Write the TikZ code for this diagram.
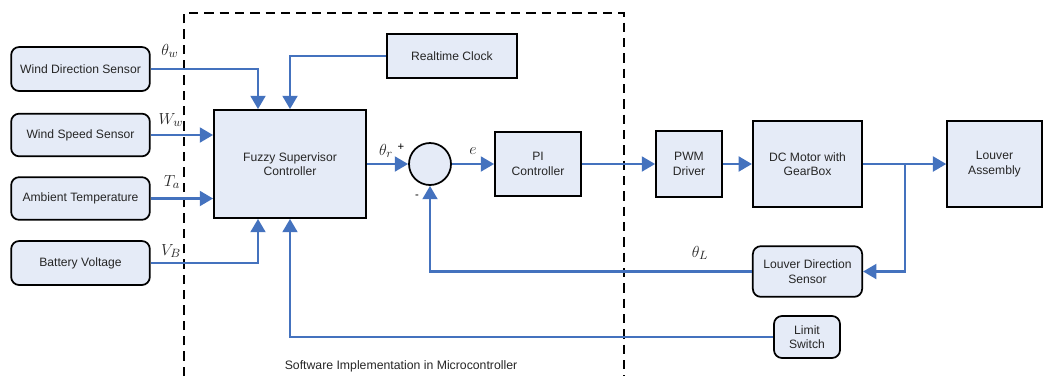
\documentclass[tikz,border=0pt]{standalone}
\usepackage{amsmath,amssymb}
\usepackage{fontspec}
\setmainfont{Liberation Sans}
\usetikzlibrary{arrows.meta}
\definecolor{sigblue}{RGB}{68,114,190}
\definecolor{boxfill}{RGB}{229,235,247}
\tikzset{
  blk/.style={draw, line width=1.3pt, fill=boxfill, align=center, text=black!85, font=\fontsize{9.1}{11}\selectfont, inner sep=0pt},
  sensor/.style={blk, rounded corners=6pt},
  sig/.style={draw=sigblue, line width=2.2pt, -{Triangle[length=10pt,width=11pt]}},
  lbl/.style={font=\fontsize{12.5}{14}\selectfont, text=black!85, inner sep=0pt},
}
\begin{document}
\begin{tikzpicture}[x=0.75pt,y=0.75pt,yscale=-1,xscale=1]
\useasboundingbox (0,0) rectangle (1044,376);

%Dashed frame: software in microcontroller
\draw [line width=1.1pt, dash pattern=on 7pt off 4.5pt] (184,376) -- (184,13) -- (624,13) -- (624,376);
\node [font=\fontsize{9.2}{11}\selectfont, text=black!85] (sw) at (401,366) {Software Implementation in Microcontroller};

%Sensors on the left
\node [sensor, minimum width=104pt, minimum height=33pt] (wds) at (80.5,69) {Wind Direction Sensor};
\node [sensor, minimum width=104pt, minimum height=32pt] (wss) at (80.5,135) {Wind Speed Sensor};
\node [sensor, minimum width=104pt, minimum height=32pt] (amb) at (80.5,198.5) {Ambient Temperature};
\node [sensor, minimum width=104pt, minimum height=33pt] (bat) at (80.5,263) {Battery Voltage};

%Blocks
\node [blk, minimum width=114pt, minimum height=81pt] (fuzzy) at (290,164) {Fuzzy Supervisor\\Controller};
\node [blk, minimum width=97.5pt, minimum height=33pt] (clock) at (452,56) {Realtime Clock};
\node [draw, circle, line width=1.3pt, fill=boxfill, minimum size=31.5pt, inner sep=0pt] (sum) at (430,164) {};
\node [blk, minimum width=64.5pt, minimum height=48pt] (pi) at (538,164) {PI\\Controller};
\node [blk, minimum width=49.5pt, minimum height=49pt] (pwm) at (689,164) {PWM\\Driver};
\node [blk, minimum width=82pt, minimum height=64.5pt] (motor) at (807.5,164) {DC Motor with\\GearBox};
\node [blk, minimum width=71pt, minimum height=64.5pt] (louver) at (994.5,164) {Louver\\Assembly};
\node [sensor, minimum width=82pt, minimum height=38pt] (lds) at (807.5,271.5) {Louver Direction\\Sensor};
\node [sensor, minimum width=49.5pt, minimum height=31.5pt] (limit) at (807,337) {Limit\\Switch};
\coordinate (br) at (905,164);

%Signals into the fuzzy supervisor
\draw [sig] (wds.east) -| ([xshift=-24pt]fuzzy.north);
\draw [sig] (clock.west) -| (fuzzy.north);
\draw [sig] (wss.east) -- (wss.east -| fuzzy.west);
\draw [sig] (amb.east) -- (amb.east -| fuzzy.west);
\draw [sig] (bat.east) -| ([xshift=-24pt]fuzzy.south);
\draw [sig] (limit.west) -| (fuzzy.south);

%Forward path
\draw [sig] (fuzzy.east) -- (sum.west);
\draw [sig] (sum.east) -- (pi.west);
\draw [sig] (pi.east) -- (pwm.west);
\draw [sig] (pwm.east) -- (motor.west);
\draw [sig] (motor.east) -- (louver.west);

%Feedback path
\draw [sig] (br) |- (lds.east);
\draw [sig] (lds.west) -| (sum.south);

% Text Node
\node [lbl] (thw) at (170,51) {$\theta_w$};
\node [lbl] (ww) at (171,120) {$W_w$};
\node [lbl] (ta) at (172,182) {$T_a$};
\node [lbl] (vb) at (171,251) {$V_B$};
\node [lbl] (thr) at (386,151) {$\theta_r$};
\node [font=\fontsize{8.5}{10}\selectfont] (plus) at (401,147) {+};
\node [font=\fontsize{8.5}{10}\selectfont] (minus) at (417,197) {-};
\node [lbl] (err) at (473,151) {$e$};
\node [lbl] (thl) at (700,253) {$\theta_L$};

\end{tikzpicture}
\end{document}
